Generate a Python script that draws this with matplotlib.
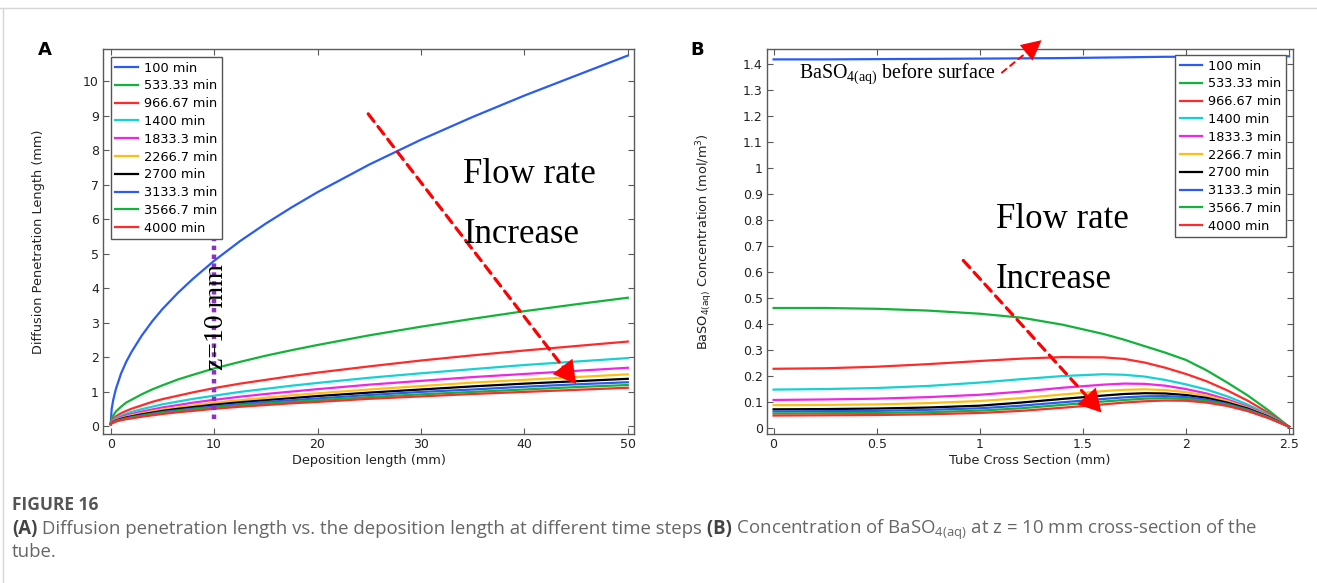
import matplotlib
matplotlib.use('Agg')
import matplotlib.pyplot as plt
from matplotlib.lines import Line2D

plt.rcParams['font.family'] = ['DejaVu Sans']

# legend labels and colours (shared by both panels)
time_labels = ['100 min', '533.33 min', '966.67 min', '1400 min', '1833.3 min',
               '2266.7 min', '2700 min', '3133.3 min', '3566.7 min', '4000 min']
line_colors = ['#2a5cf5', '#12b33a', '#ff2a2a', '#14d2d2', '#f026e6',
               '#ffbf10', '#000000', '#2a5cf5', '#12b33a', '#ff2a2a']

# panel A: diffusion penetration length (mm) vs deposition length (mm)
dep_len = [0, 0.1, 0.25, 0.5, 1, 1.5, 2, 3, 4, 5, 6.5, 8, 10, 12.5, 15, 17.5, 20, 25, 30, 35, 40, 45, 50]
pen_100 = [0.05, 0.50, 0.76, 1.07, 1.52, 1.86, 2.14, 2.62, 3.03, 3.39, 3.86, 4.28, 4.79, 5.36, 5.87, 6.34, 6.78, 7.58, 8.30, 8.96, 9.58, 10.16, 10.74]
pen_533 = [0.08, 0.22, 0.30, 0.42, 0.56, 0.68, 0.76, 0.92, 1.06, 1.18, 1.35, 1.49, 1.67, 1.86, 2.04, 2.20, 2.35, 2.63, 2.88, 3.11, 3.33, 3.53, 3.72]
pen_967 = [0.07, 0.15, 0.20, 0.28, 0.37, 0.44, 0.50, 0.60, 0.70, 0.78, 0.88, 0.98, 1.10, 1.23, 1.34, 1.45, 1.55, 1.73, 1.90, 2.05, 2.19, 2.32, 2.45]
pen_1400 = [0.06, 0.13, 0.17, 0.23, 0.30, 0.36, 0.41, 0.49, 0.56, 0.63, 0.71, 0.79, 0.88, 0.99, 1.08, 1.17, 1.25, 1.40, 1.53, 1.65, 1.77, 1.87, 1.97]
pen_1833 = [0.06, 0.11, 0.15, 0.20, 0.26, 0.31, 0.35, 0.42, 0.48, 0.54, 0.61, 0.68, 0.76, 0.85, 0.93, 1.00, 1.07, 1.20, 1.31, 1.42, 1.51, 1.60, 1.69]
pen_2267 = [0.05, 0.10, 0.13, 0.18, 0.23, 0.27, 0.31, 0.37, 0.43, 0.48, 0.54, 0.60, 0.68, 0.75, 0.82, 0.89, 0.95, 1.06, 1.16, 1.26, 1.34, 1.42, 1.50]
pen_2700 = [0.05, 0.09, 0.12, 0.16, 0.21, 0.25, 0.28, 0.34, 0.39, 0.44, 0.50, 0.55, 0.62, 0.69, 0.75, 0.81, 0.87, 0.97, 1.06, 1.15, 1.23, 1.30, 1.37]
pen_3133 = [0.05, 0.09, 0.11, 0.15, 0.19, 0.23, 0.26, 0.31, 0.36, 0.41, 0.46, 0.51, 0.57, 0.64, 0.70, 0.75, 0.80, 0.90, 0.99, 1.06, 1.14, 1.21, 1.27]
pen_3567 = [0.05, 0.08, 0.10, 0.14, 0.18, 0.21, 0.24, 0.29, 0.34, 0.38, 0.43, 0.48, 0.53, 0.60, 0.65, 0.70, 0.75, 0.84, 0.92, 0.99, 1.06, 1.13, 1.19]
pen_4000 = [0.05, 0.08, 0.10, 0.13, 0.17, 0.20, 0.22, 0.27, 0.31, 0.35, 0.40, 0.44, 0.50, 0.56, 0.61, 0.66, 0.70, 0.79, 0.86, 0.93, 0.99, 1.05, 1.11]
penetration = [pen_100, pen_533, pen_967, pen_1400, pen_1833,
               pen_2267, pen_2700, pen_3133, pen_3567, pen_4000]

# panel B: BaSO4(aq) concentration (mol/m3) across the tube at z = 10 mm
tube_x = [0, 0.25, 0.5, 0.75, 1.0, 1.2, 1.4, 1.6, 1.7, 1.8, 1.9, 2.0, 2.1, 2.2, 2.3, 2.4, 2.5]
c_100 = [1.419, 1.419, 1.420, 1.421, 1.422, 1.423, 1.424, 1.426, 1.427, 1.428, 1.429, 1.429, 1.430, 1.430, 1.431, 1.431, 1.431]
c_533 = [0.462, 0.462, 0.459, 0.452, 0.440, 0.425, 0.398, 0.362, 0.340, 0.315, 0.290, 0.262, 0.222, 0.175, 0.125, 0.068, 0.005]
c_967 = [0.228, 0.230, 0.236, 0.246, 0.258, 0.267, 0.273, 0.272, 0.266, 0.252, 0.232, 0.208, 0.180, 0.145, 0.105, 0.058, 0.005]
c_1400 = [0.148, 0.150, 0.154, 0.162, 0.175, 0.188, 0.200, 0.207, 0.205, 0.198, 0.185, 0.168, 0.148, 0.122, 0.090, 0.052, 0.005]
c_1833 = [0.108, 0.110, 0.113, 0.119, 0.128, 0.140, 0.155, 0.167, 0.171, 0.170, 0.163, 0.150, 0.133, 0.110, 0.082, 0.048, 0.005]
c_2267 = [0.088, 0.089, 0.091, 0.096, 0.104, 0.115, 0.129, 0.142, 0.147, 0.149, 0.146, 0.138, 0.124, 0.104, 0.078, 0.046, 0.005]
c_2700 = [0.072, 0.073, 0.075, 0.079, 0.086, 0.098, 0.112, 0.125, 0.131, 0.134, 0.133, 0.127, 0.116, 0.098, 0.075, 0.044, 0.005]
c_3133 = [0.064, 0.065, 0.066, 0.070, 0.076, 0.086, 0.099, 0.112, 0.118, 0.122, 0.123, 0.119, 0.109, 0.093, 0.071, 0.042, 0.005]
c_3567 = [0.056, 0.057, 0.058, 0.061, 0.067, 0.076, 0.089, 0.102, 0.108, 0.113, 0.115, 0.112, 0.103, 0.089, 0.068, 0.040, 0.005]
c_4000 = [0.048, 0.049, 0.050, 0.053, 0.058, 0.066, 0.078, 0.091, 0.098, 0.103, 0.106, 0.105, 0.098, 0.085, 0.065, 0.038, 0.005]
concentration = [c_100, c_533, c_967, c_1400, c_1833,
                 c_2267, c_2700, c_3133, c_3567, c_4000]

W, H = 1317, 583
fig = plt.figure(figsize=(W / 100, H / 100), dpi=100)

# thin page frame lines seen at the top / left of the figure
fig.add_artist(Line2D([0, 1], [1 - 8 / H, 1 - 8 / H], transform=fig.transFigure, color='#d6d6d6', lw=1))
fig.add_artist(Line2D([3 / W, 3 / W], [0, 1 - 8 / H], transform=fig.transFigure, color='#d6d6d6', lw=1))

axA = fig.add_axes([103 / W, 1 - 434 / H, (634 - 103) / W, (434 - 49) / H])
axB = fig.add_axes([767 / W, 1 - 434 / H, (1293 - 767) / W, (434 - 49) / H])

for ys, lab, col in zip(penetration, time_labels, line_colors):
    axA.plot(dep_len, ys, color=col, lw=1.6, label=lab)
for ys, lab, col in zip(concentration, time_labels, line_colors):
    axB.plot(tube_x, ys, color=col, lw=1.6, label=lab)

for ax in (axA, axB):
    for sp in ax.spines.values():
        sp.set_color('#5a5a5a')
        sp.set_linewidth(1.0)
    ax.tick_params(direction='in', top=True, right=True, length=4, width=0.8,
                   color='#5a5a5a', labelsize=9, labelcolor='#222222', pad=3)

lab_kw = dict(fontsize=9.3, color='#222222')
axA.set_xlim(-0.74, 50.6)
axA.set_ylim(-0.23, 10.93)
axA.set_xticks([0, 10, 20, 30, 40, 50])
axA.set_yticks(range(0, 11))
axA.set_xlabel('Deposition length (mm)', labelpad=2, **lab_kw)
axA.set_ylabel('Diffusion Penetration Length (mm)', labelpad=27, **lab_kw)

axB.set_xlim(-0.032, 2.519)
axB.set_ylim(-0.023, 1.459)
axB.set_xticks([0, 0.5, 1, 1.5, 2, 2.5])
axB.set_xticklabels(['0', '0.5', '1', '1.5', '2', '2.5'])
b_yticks = [i / 10 for i in range(15)]
axB.set_yticks(b_yticks)
axB.set_yticklabels(['0'] + ['%g' % v for v in b_yticks[1:]])
axB.set_xlabel('Tube Cross Section (mm)', labelpad=2, **lab_kw)
axB.set_ylabel(r'BaSO$_{\mathregular{4(aq)}}$ Concentration (mol/m$^{\mathregular{3}}$)',
               labelpad=20, **lab_kw)

leg_kw = dict(fontsize=9.3, frameon=True, fancybox=False, edgecolor='#555555', framealpha=1,
              handlelength=1.75, labelspacing=0.37, borderpad=0.35, handletextpad=0.45,
              borderaxespad=0)
legA = axA.legend(loc='upper left', bbox_to_anchor=(0.015, 0.979), **leg_kw)
legB = axB.legend(loc='upper right', bbox_to_anchor=(0.987, 0.984), **leg_kw)
for leg in (legA, legB):
    leg.get_frame().set_linewidth(1.0)

serif = 'Liberation Serif'


def dashed_arrow(ax, start, end, lw, dash, head_len, head_w, scale):
    # dashed shaft that stops under the head, then a solid filled head
    ax.annotate('', xy=end, xytext=start, annotation_clip=False,
                arrowprops=dict(arrowstyle='-', color='red', lw=lw, linestyle=dash,
                                shrinkA=0, shrinkB=head_len * scale * 0.7))
    back = (start[0] + 0.9 * (end[0] - start[0]), start[1] + 0.9 * (end[1] - start[1]))
    ax.annotate('', xy=end, xytext=back, annotation_clip=False,
                arrowprops=dict(arrowstyle='-|>,head_length=%g,head_width=%g' % (head_len, head_w),
                                color='red', lw=0, mutation_scale=scale,
                                shrinkA=0, shrinkB=0))


# panel A annotations
z_slice = 10
slice_span = (0.2, 5.85)
axA.plot([z_slice, z_slice], slice_span, color='#8e2fc8', lw=3.2, ls=(0, (1, 1)), zorder=3)
axA.text(10.2, 3.15, 'z=10 mm', rotation=90, family=serif, fontsize=20,
         ha='center', va='center')
dashed_arrow(axA, (24.9, 9.05), (45.0, 1.22), 2.3, (0, (3, 2)), 0.8, 0.45, 20)
axA.text(34.1, 7.05, 'Flow rate', family=serif, fontsize=25, va='baseline')
axA.text(34.1, 5.31, 'Increase', family=serif, fontsize=25, va='baseline')

# panel B annotations
dashed_arrow(axB, (0.92, 0.645), (1.59, 0.06), 2.3, (0, (3, 2)), 0.8, 0.45, 20)
dashed_arrow(axB, (1.107, 1.368), (1.30, 1.493), 1.4, (0, (3, 2.5)), 0.9, 0.45, 16)
axB.text(0.125, 1.346, r'BaSO$_{\mathregular{4(aq)}}$ before surface', family=serif,
         fontsize=14.3, va='baseline')
axB.text(1.078, 0.769, 'Flow rate', family=serif, fontsize=25, va='baseline')
axB.text(1.078, 0.538, 'Increase', family=serif, fontsize=25, va='baseline')

# panel letters
fig.text(45 / W, 1 - 50 / H, 'A', fontsize=13, weight='bold', ha='center', va='center')
fig.text(697 / W, 1 - 50 / H, 'B', fontsize=13, weight='bold', ha='center', va='center')

# caption
cap_font = 'Open Sans'
renderer = fig.canvas.get_renderer()


def write_runs(x, y, runs, size):
    for txt, bold in runs:
        t = fig.text(x, y, txt, fontsize=size, family=cap_font,
                     weight='bold' if bold else 'normal',
                     color='#444444' if bold else '#666666', va='baseline')
        x += t.get_window_extent(renderer).width / W


fig.text(12 / W, 1 - 510 / H, 'FIGURE 16', fontsize=12.5, family=cap_font, weight='bold',
         color='#555555', va='baseline')
write_runs(12 / W, 1 - 534 / H, [
    ('(A)', True),
    (' Diffusion penetration length vs. the deposition length at different time steps', False),
    (' (B)', True),
    (r' Concentration of BaSO$_{\mathregular{4(aq)}}$ at z = 10 mm cross-section of the', False),
], 13.4)
write_runs(12 / W, 1 - 557 / H, [('tube.', False)], 13.4)

fig.savefig('out.png', dpi=100)
